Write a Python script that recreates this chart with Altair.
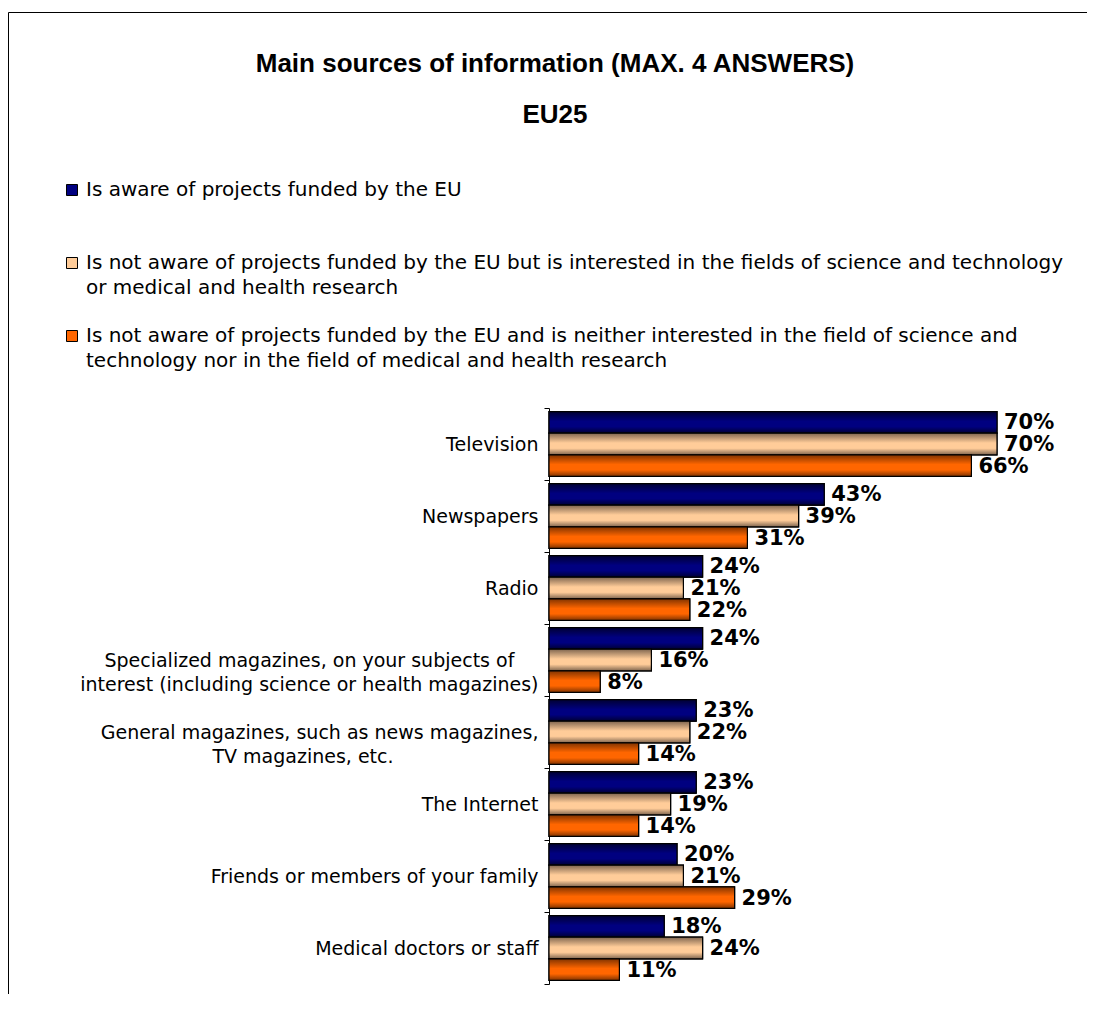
import altair as alt
import pandas as pd

NB = "\u00a0"
ZW = "\u200b"

categories = [
    "Television",
    "Newspapers",
    "Radio",
    "Specialized magazines, on your subjects of" + NB * 4 + ZW + "|interest (including science or health magazines)",
    "General magazines, such as news magazines,|TV magazines, etc." + NB * 24 + ZW,
    "The Internet",
    "Friends or members of your family",
    "Medical doctors or staff",
]
series = [
    "Is aware of projects funded by the EU",
    "Is not aware of projects funded by the EU but is interested in the fields of science and technology|or medical and health research",
    "Is not aware of projects funded by the EU and is neither interested in the field of science and|technology nor in the field of medical and health research",
]
aware = [70, 43, 24, 24, 23, 23, 20, 18]
interested = [70, 39, 21, 16, 22, 19, 21, 24]
neither = [66, 31, 22, 8, 14, 14, 29, 11]
colors = ["#000080", "#FFCC99", "#FF6600"]
edge_colors = ["#000033", "#806650", "#803300"]

rows = []
for vals, s in zip([aware, interested, neither], series):
    for c, v in zip(categories, vals):
        rows.append({"category": c, "series": s, "value": v, "label": f"{v}%"})
df = pd.DataFrame(rows)

W, H = 448, 576

y_enc = alt.Y(
    "category:N",
    sort=categories,
    scale=alt.Scale(paddingInner=0, paddingOuter=0),
    axis=alt.Axis(
        title=None,
        domainColor="black",
        tickColor="black",
        tickSize=5,
        tickBand="extent",
        labelFont="DejaVu Sans",
        labelFontSize=19,
        labelColor="black",
        labelPadding=6,
        labelLimit=700,
        labelLineHeight=24,
        labelExpr="split(datum.label, '|')",
    ),
)
yoff = alt.YOffset("series:N", sort=series,
                   scale=alt.Scale(paddingInner=0, paddingOuter=0.17))
x_enc = alt.X("value:Q", scale=alt.Scale(domain=[0, 70], nice=False), axis=None)

base = alt.Chart(df)

bars = base.mark_bar(stroke="black", strokeWidth=1.2).encode(
    x=x_enc,
    y=y_enc,
    yOffset=yoff,
    color=alt.Color(
        "series:N",
        sort=series,
        scale=alt.Scale(domain=series, range=colors),
        legend=alt.Legend(
            title=None,
            orient="none",
            legendX=-487,
            legendY=-228,
            direction="vertical",
            padding=0,
            symbolType="square",
            symbolSize=121,
            symbolStrokeColor="black",
            symbolStrokeWidth=1,
            symbolOpacity=1,
            labelFont="DejaVu Sans",
            labelFontSize=20,
            labelColor="black",
            labelOffset=4,
            labelLimit=1200,
            labelExpr="split(datum.label, '|')",
            gridAlign="all",
            rowPadding=28,
        ),
    ),
)

overlays = []
for s, c, e in zip(series, colors, edge_colors):
    grad = alt.LinearGradient(
        gradient="linear",
        x1=0, x2=0, y1=0, y2=1,
        stops=[
            alt.GradientStop(color=e, offset=0),
            alt.GradientStop(color=c, offset=0.45),
            alt.GradientStop(color=c, offset=0.7),
            alt.GradientStop(color=e, offset=1),
        ],
    )
    overlays.append(
        base.transform_filter(alt.datum.series == s)
        .mark_bar(fill=grad, stroke="black", strokeWidth=1.2)
        .encode(x=x_enc, y=alt.Y("category:N", sort=categories), yOffset=yoff)
    )

labels = base.mark_text(
    align="left", baseline="middle", dx=7, dy=1,
    font="DejaVu Sans", fontWeight="bold", fontSize=21, color="black",
).encode(x=x_enc, y=alt.Y("category:N", sort=categories), yOffset=yoff, text="label:N")

frame = alt.Chart(pd.DataFrame({"f": [0]})).mark_rect(
    fill=None, stroke="black", strokeWidth=1
).encode(
    x=alt.value(-540.5), x2=alt.value(1000),
    y=alt.value(-395.5), y2=alt.value(1000),
)

chart = alt.layer(frame, bars, *overlays, labels).properties(
    width=W,
    height=H,
    autosize=alt.AutoSizeParams(type="none"),
    padding={"left": 541, "top": 400, "right": 90, "bottom": 10},
    title=alt.TitleParams(
        text="Main sources of information (MAX. 4 ANSWERS)",
        subtitle="EU25",
        anchor="middle",
        dx=-218,
        offset=-116,
        font="Liberation Sans",
        fontSize=26,
        fontWeight="bold",
        color="black",
        subtitleFont="Liberation Sans",
        subtitleFontSize=26,
        subtitleFontWeight="bold",
        subtitleColor="black",
        subtitlePadding=25,
    ),
).configure(
    background="white",
    style={"guide-label": {"lineHeight": 25}},
).configure_view(stroke=None)

chart.save("out.html", embed_options={"renderer": "svg", "actions": False})
